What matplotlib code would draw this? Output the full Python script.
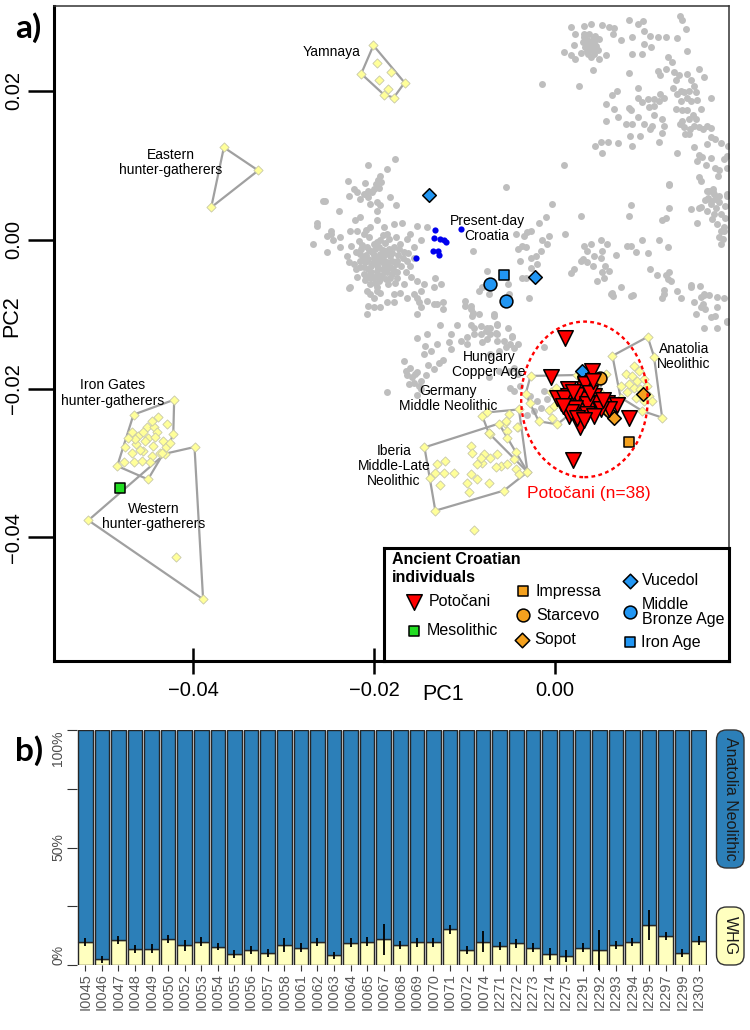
import numpy as np
import matplotlib.pyplot as plt
from matplotlib.patches import Ellipse, FancyBboxPatch

plt.rcParams['font.family'] = ['Liberation Sans', 'DejaVu Sans']

# ---- panel a) PCA, coordinates given as PC x 1000 ----
modern = [
    (-17.7, 10.9), (-20.6, 10.0), (-18.6, 9.5), (-19.3, 8.5), (-19.5, 8.0), (-19.2, 7.7), (-19.8, 7.5),
    (-19.4, 7.0), (-20.0, 6.8), (-20.2, 6.4), (-20.6, 6.6), (-21.0, 7.6), (-21.1, 6.1), (-20.6, 5.7),
    (-21.5, 5.5), (-22.2, 6.8), (-21.9, 6.4), (-25.4, 5.2), (-23.9, 3.9), (-22.8, 5.9), (-19.7, 5.0),
    (-19.3, 4.6), (-18.2, 5.7), (-17.6, 4.6), (-19.7, 3.9), (-20.4, 4.8), (-21.5, 3.0), (-22.1, 2.6),
    (-26.3, 1.9), (-24.8, 1.2), (-25.2, 0.5), (-24.5, -0.1), (-23.7, 0.3), (-26.7, -0.6), (-23.7, -1.0),
    (-25.2, -1.7), (-22.6, 1.2), (-21.9, 1.2), (-21.1, 0.8), (-20.4, 1.7), (-19.7, 2.6), (-18.9, 1.7),
    (-17.8, 2.1), (-16.9, 2.3), (-18.5, 0.8), (-19.3, -0.1), (-20.0, -0.6), (-20.8, -1.0), (-21.5, -1.9),
    (-22.2, -3.3), (-21.5, -2.8), (-21.1, -3.7), (-20.8, -2.8), (-20.0, -2.4), (-19.3, -1.9), (-18.5, -1.5),
    (-17.8, -1.0), (-17.1, -0.6), (-16.3, 0.1), (-16.0, 0.8), (-15.2, 1.9), (-14.1, 1.7), (-14.8, -0.1),
    (-15.6, -1.0), (-16.7, -1.7), (-17.4, -2.8), (-18.2, -3.7), (-18.9, -3.3), (-19.7, -4.2), (-20.4, -4.6),
    (-21.1, -4.6), (-19.3, -5.3), (-18.2, -5.1), (-17.4, -5.1), (-16.7, -6.0), (-15.2, -5.5), (-14.5, -6.0),
    (-13.2, -5.1), (-12.6, -6.0), (-13.4, -6.4), (-14.8, -6.9), (-15.6, -7.3), (-15.2, -7.8), (-14.1, -8.2),
    (-13.0, -8.7), (-12.3, -8.4), (-16.3, -7.8), (-17.1, -7.1), (-17.8, -7.3), (-19.3, -7.1), (-19.7, -6.4),
    (-20.4, -6.0), (-20.8, -6.9), (-20.0, -7.8), (-20.6, -8.9), (-20.8, -10.0), (-19.3, -9.1), (-18.5, -8.4),
    (-17.8, -8.4), (-22.6, -6.4), (-15.2, -10.0), (-14.8, -9.1), (-9.9, -8.2), (-9.3, -8.9), (-9.0, -9.8),
    (-8.4, -6.9), (-9.0, -1.5), (-16.3, -2.8), (-15.6, -2.4), (-19.8, -2.9), (-19.0, -2.6), (-20.3, -3.5),
    (-18.6, -3.0), (-19.5, -3.8), (-20.9, -2.0), (-18.2, -2.2), (-19.9, -1.2), (-18.8, -0.5), (-21.0, -5.4),
    (-19.9, -5.8), (-18.6, -4.4), (-17.9, -4.0), (-20.5, 0.3), (-19.0, 0.6), (-17.5, 0.4), (-22.5, -0.8),
    (-23.0, -2.2), (-22.0, -4.0), (-21.7, -0.2), (-20.2, -1.6), (-19.4, -1.0), (-18.0, -1.8), (-20.7, -4.0),
    (-19.1, -4.7), (-18.4, -5.9), (-21.4, -1.3), (-20.3, -5.2), (-17.0, -3.5), (-16.5, -4.4), (-22.9, 7.9),
    (-25.6, 5.2), (-26.3, 2.2), (-24.8, 0.8), (-22.8, -6.5), (-20.0, -9.1), (-20.4, -7.3),
    (-20.0, -2.0), (-19.6, -2.3), (-19.2, -2.9), (-18.9, -2.1), (-19.6, -3.4), (-20.1, -3.1), (-20.6, -2.6),
    (-20.3, -4.3), (-19.7, -4.9), (-19.0, -4.0), (-18.4, -3.6), (-18.0, -2.8), (-17.6, -3.2), (-17.3, -2.0),
    (-18.3, -1.2), (-19.0, -1.4), (-20.5, -1.4), (-21.2, -2.3), (-21.0, -3.0), (-21.5, -3.6), (-20.9, -5.0),
    (-20.0, -5.0), (-19.4, -5.6), (-18.7, -5.3), (-18.0, -4.6), (-17.4, -4.3), (-16.8, -2.5), (-17.7, -5.8),
    (-19.7, -6.9), (-21.3, -0.7), (-22.0, -1.6), (-22.7, -3.0), (-21.9, -5.0), (-19.6, -0.3), (-18.3, 0.1),
    (-17.2, -1.3), (-16.2, -1.8), (-16.0, -3.5), (-15.9, -5.0), (-20.9, 1.3),
    (1.85, 28.6), (2.25, 27.7), (3.25, 28.65), (4.0, 29.0), (5.2, 28.9), (6.0, 28.6), (6.6, 28.5), (6.5, 27.7),
    (7.3, 26.8), (8.2, 29.5), (9.2, 29.0), (9.8, 29.4), (8.6, 27.2), (9.9, 28.1), (10.6, 27.4), (11.4, 27.2),
    (12.3, 27.2), (13.6, 27.1), (13.9, 30.1), (14.1, 29.5), (14.5, 28.3), (14.7, 25.3), (9.9, 26.3), (10.7, 25.9),
    (8.6, 25.0), (9.7, 24.9), (1.0, 25.2), (1.8, 24.8), (2.3, 24.3), (2.9, 25.1), (2.1, 26.1), (3.6, 26.8),
    (4.0, 25.9), (4.4, 25.0), (3.25, 27.2), (3.8, 27.7), (4.5, 27.4), (4.9, 27.0), (4.4, 26.5), (3.4, 25.9),
    (4.0, 24.5), (4.9, 24.3), (5.65, 24.8), (4.2, 22.8), (3.5, 26.0), (3.9, 26.4), (4.2, 25.5), (3.6, 25.3),
    (4.6, 26.0), (3.1, 26.5), (4.8, 25.5), (3.3, 27.6), (4.3, 27.0), (3.7, 24.9),
    (-1.4, 20.9), (2.7, 20.7), (8.2, 22.4), (9.2, 20.4), (12.6, 24.5), (13.0, 23.9), (12.3, 23.0), (11.4, 22.7),
    (11.7, 22.1), (13.2, 22.5), (13.8, 22.1), (14.7, 22.3), (16.0, 23.0), (16.5, 21.9), (15.1, 21.4),
    (15.4, 20.7), (13.4, 21.4), (13.1, 20.4), (14.0, 20.0), (13.6, 19.6), (14.3, 19.8), (14.9, 20.0),
    (15.7, 19.8), (14.7, 19.1), (15.8, 18.8), (15.1, 18.7), (14.0, 18.7), (17.3, 19.1), (11.7, 19.6),
    (12.1, 19.1), (11.6, 18.7), (11.0, 18.9), (10.3, 18.9), (11.0, 18.0), (10.5, 17.8), (9.7, 18.5),
    (9.2, 19.1), (8.2, 17.7), (6.9, 20.0), (6.3, 19.4), (5.65, 18.2), (6.6, 17.6), (7.0, 16.5), (8.4, 17.4),
    (9.2, 16.5), (9.9, 15.6), (10.8, 15.3), (11.0, 16.7), (11.9, 16.2), (12.1, 15.3), (11.9, 14.4),
    (13.4, 17.6), (14.1, 17.4), (14.7, 17.4), (15.3, 16.7), (15.6, 16.2), (14.9, 16.2), (14.1, 16.0),
    (13.9, 15.6), (14.3, 15.1), (15.0, 14.9), (15.4, 15.3), (16.0, 15.1), (16.4, 14.9), (16.9, 15.3),
    (17.3, 15.0), (16.2, 17.6), (14.4, 14.2), (14.9, 14.2), (5.65, 16.0), (7.9, 15.5), (8.6, 15.5),
    (10.6, 14.9), (8.3, 13.9), (9.5, 14.0), (8.6, 12.6), (11.6, 13.1), (4.5, 12.6), (5.1, 13.1), (5.9, 13.1),
    (7.0, 13.0), (5.2, 11.7), (15.4, 12.5), (16.9, 12.9), (17.3, 13.8), (17.8, 13.5), (18.4, 13.0),
    (19.2, 12.6), (16.0, 11.4), (16.3, 11.1), (15.8, 10.6), (17.3, 11.0), (17.7, 9.6), (18.2, 9.4),
    (18.8, 10.8), (19.1, 11.3), (18.1, 8.6), (19.1, 9.7), (16.7, 10.0), (13.5, 11.6), (16.0, 8.4), (16.2, 7.9),
    (17.1, 6.6), (17.5, 6.4), (18.2, 5.9), (19.1, 6.1), (17.8, 5.5), (1.0, 10.0), (-5.4, 7.1), (12.7, 7.5),
    (-0.26, 4.8), (-1.0, 3.1), (-1.7, 2.3), (-2.66, 1.2), (-3.0, 1.0), (-3.4, 0.5), (-4.3, 0.8), (-3.6, -0.8),
    (-4.0, -1.25), (-3.2, -1.0), (-1.4, -0.1), (-1.55, -1.5), (-0.8, -0.6), (-0.6, 0.5), (1.2, 0.8), (2.9, 3.2),
    (-2.1, -2.15), (-2.66, -2.4), (-1.9, -3.3), (-2.66, -3.8), (-3.8, -2.8), (-3.6, -5.1), (-3.2, -5.2),
    (-2.85, -7.8), (-7.5, -4.2), (-8.0, -6.4), (-7.3, -7.3), (-5.2, -5.96), (-5.1, -7.3), (-6.7, -10.2),
    (-6.35, -11.3), (-7.1, -11.8), (-7.6, -12.2), (-6.35, -12.7), (-7.5, -13.4), (-5.6, -13.6), (-4.7, -12.9),
    (-4.9, -14.0), (-5.4, -14.4), (-1.2, -14.4), (3.25, -0.8), (4.0, -0.6), (3.6, -1.5), (4.35, -2.15),
    (3.1, -2.6), (2.9, -2.8), (3.6, -3.0), (4.2, -3.5), (5.1, -0.1), (5.8, -0.6), (5.3, -1.5), (5.1, -2.4),
    (5.55, -3.5), (6.0, -4.2), (5.3, -4.3), (5.5, -5.1), (4.7, -5.6), (2.1, -3.9), (1.8, -4.5), (6.8, -2.0),
    (6.3, -7.1), (6.5, -7.5), (7.4, -6.4), (8.7, -7.4), (8.05, -0.8), (8.4, -0.8), (9.0, -1.7), (9.7, -0.1),
    (10.3, -1.8), (10.6, -3.9), (11.6, 0.0), (12.5, -1.0), (11.3, -4.75), (12.3, -4.8), (12.5, -5.3),
    (12.85, -5.5), (12.7, -4.3), (12.1, -6.8), (11.9, -7.8), (13.5, -6.95), (15.1, -6.1), (16.1, -6.2),
    (15.4, -8.4), (16.2, -7.75), (16.5, -7.4), (17.1, -7.4), (18.0, -7.75), (16.4, -8.6), (16.2, -9.1),
    (16.6, -9.3), (15.6, -10.0), (17.3, -10.4), (17.7, -10.2), (18.0, -11.8), (19.1, -11.1), (8.4, 4.7),
    (8.2, 3.2), (12.3, 2.9), (12.7, 4.3), (11.9, 2.65), (12.7, 7.4), (15.1, 4.1), (15.8, 2.3), (16.2, 4.4),
    (16.85, 3.9), (17.3, 4.8), (17.65, 3.45), (18.0, 2.1), (18.4, 1.2), (18.6, 0.1), (18.8, 1.7),
    (17.65, 6.15), (18.2, 5.0), (19.1, 5.9), (16.9, 6.6), (17.5, 6.8), (18.4, -0.6), (17.3, 5.2), (18.4, 3.5),
    (18.7, 1.2), (18.2, 0.3), (16.0, 4.3), (17.0, 5.6), (17.9, 4.2), (18.9, 4.5), (17.4, 2.8), (18.9, 2.9),
    (16.6, 5.3),
    (-15.0, -8.4), (-13.4, -8.7), (-12.4, -9.3), (-9.9, -8.9), (-9.3, -9.3), (-9.1, -10.2), (-8.4, -10.0),
    (-6.7, -10.0), (-10.8, -11.4), (-9.3, -11.4), (-8.9, -11.8), (-8.2, -11.6), (-7.5, -11.8), (-6.4, -11.4),
    (-6.5, -12.5), (-7.1, -12.7), (-8.2, -12.7), (-8.9, -12.7), (-9.7, -13.1), (-10.4, -13.6), (-11.5, -12.7),
    (-11.7, -13.8), (-12.7, -11.4), (-14.1, -12.7), (-15.2, -13.2), (-14.3, -14.3), (-13.7, -14.9),
    (-14.5, -15.4), (-13.0, -14.0), (-11.5, -14.7), (-9.7, -14.0), (-8.0, -13.8), (-6.4, -13.6), (-6.2, -14.9),
    (-7.1, -15.4), (-4.7, -13.1), (-5.2, -11.8), (-4.5, -14.5), (-4.1, -14.0), (-16.7, -16.3), (-16.5, -17.6),
    (-16.0, -17.2), (-15.8, -18.5), (-15.2, -17.8), (-15.6, -19.2), (-14.8, -19.0), (-14.8, -20.1),
    (-16.1, -19.4), (-13.4, -17.4), (-12.8, -16.5), (-12.3, -16.1), (-18.5, -20.5), (-15.2, -20.8),
    (-7.3, -18.5), (-6.2, -17.6), (-5.1, -17.6), (-4.5, -17.2), (-4.1, -18.1), (-4.9, -19.9), (-4.5, -20.3),
    (-3.8, -19.6), (-2.7, -21.0), (-1.9, -21.7), (-1.55, -22.6), (-2.3, -23.0), (-1.2, -20.3), (-0.8, -21.4),
    (-3.0, -23.5), (-15.5, -18.0), (-14.2, -18.2), (-15.0, -19.6), (-16.3, -18.2), (-14.0, -16.8),
    (15.1, -6.4), (16.5, -7.3), (18.8, -7.8), (18.0, -9.1), (19.1, -10.9), (16.5, -11.8), (14.0, -7.8),
    (12.1, -7.3), (6.2, -7.3), (8.4, -7.5),
]
croatia_today = [(-13.26, 1.35), (-13.37, 0.18), (-12.7, 0.09), (-12.2, -0.04), (-12.0, -0.36),
                 (-13.44, -1.57), (-12.9, -1.48), (-12.8, -2.0), (-15.3, -2.5), (-10.4, 1.44)]

yamnaya = [(-20.05, 26.1), (-21.4, 22.3), (-19.7, 23.7), (-19.4, 21.5), (-18.1, 22.5), (-18.4, 20.2),
           (-18.9, 19.5), (-17.8, 19.1), (-16.6, 21.1)]
ehg = [(-36.6, 12.4), (-32.8, 9.3), (-38.0, 4.35)]
whg = [(-51.6, -37.7), (-38.9, -48.3), (-39.85, -27.85), (-43.1, -28.75), (-41.9, -42.6)]
iron_gates = [(-42.1, -21.5), (-46.6, -23.5), (-48.4, -30.4), (-45.0, -32.2), (-42.2, -26.1), (-43.9, -23.8),
              (-42.9, -24.8), (-45.1, -25.2), (-44.3, -25.2), (-46.8, -25.9), (-44.0, -25.9), (-46.1, -26.4),
              (-45.0, -26.6), (-43.3, -27.0), (-47.5, -27.9), (-45.3, -27.0), (-44.4, -27.7), (-46.3, -27.5),
              (-46.8, -28.6), (-45.5, -28.4), (-44.6, -29.1), (-43.7, -28.6), (-47.7, -29.9), (-46.6, -29.9),
              (-45.7, -29.7), (-44.8, -29.9), (-43.0, -27.9), (-43.5, -28.6), (-44.2, -26.5), (-45.5, -25.9),
              (-46.4, -26.8), (-45.9, -28.2), (-47.2, -26.6), (-42.6, -27.3), (-44.6, -24.3)]
anatolia_n = [(10.3, -13.05), (11.0, -15.7), (11.9, -23.9), (9.7, -23.0), (7.3, -21.2), (6.4, -15.6),
              (8.79, -16.95), (9.34, -17.6), (7.87, -18.07), (8.6, -18.3), (9.16, -18.97), (9.9, -18.74),
              (8.24, -19.4), (7.3, -19.6), (8.8, -19.9), (9.5, -20.1), (10.27, -19.6), (8.05, -20.5),
              (8.97, -21.2), (10.45, -21.0), (10.8, -21.7), (9.9, -21.7)]
hungary_ca = [(-2.66, -18.3), (-3.2, -20.7), (-2.73, -22.0), (-1.74, -24.4), (-0.44, -20.4), (0.11, -19.95),
              (-0.63, -22.9), (-0.26, -24.0), (-0.07, -22.3), (5.65, -18.1), (4.9, -20.3), (0.3, -24.8),
              (2.5, -18.2)]
germany_mn = [(-8.0, -23.7), (-5.06, -23.45), (-3.95, -22.8), (-5.5, -24.6), (-5.3, -25.7), (-4.1, -25.2),
              (-5.24, -26.6), (-7.27, -26.0), (-7.46, -23.2), (-7.16, -26.1), (-5.43, -24.35), (-4.2, -25.2),
              (-3.0, -31.2), (-4.3, -28.5)]
iberia_mln = [(-14.4, -27.9), (-13.0, -30.2), (-12.1, -29.7), (-13.2, -31.3), (-13.8, -32.0), (-12.26, -31.3),
              (-11.15, -31.3), (-12.7, -32.9), (-9.3, -27.7), (-9.1, -28.6), (-7.83, -28.8), (-8.0, -30.0),
              (-7.1, -29.3), (-6.35, -28.8), (-9.3, -31.5), (-8.6, -32.2), (-9.67, -32.65), (-7.27, -32.65),
              (-9.5, -33.9), (-5.6, -33.7), (-5.98, -30.4), (-6.5, -30.6), (-5.24, -30.2), (-4.5, -29.5),
              (-4.3, -30.85), (-3.95, -31.5), (-3.0, -31.2), (-13.2, -36.4), (-7.27, -26.0), (-8.2, -29.3),
              (-8.6, -30.2), (-6.16, -24.7)]
other_ref = [(-8.93, -39.06)]

potocani = [(1.1, -13.2), (-0.37, -18.5), (4.17, -17.6), (1.48, -20.1), (3.25, -20.1), (4.36, -21.0),
            (1.96, -21.7), (3.06, -21.4), (0.66, -21.9), (1.22, -22.8), (2.88, -23.0), (4.0, -22.8),
            (4.7, -21.9), (5.8, -21.9), (6.95, -22.2), (6.0, -22.8), (1.59, -23.7), (2.8, -25.2),
            (8.24, -24.0), (2.07, -29.6), (1.48, -21.0), (2.5, -20.8), (3.6, -22.1), (0.3, -21.2),
            (1.0, -21.2), (5.1, -22.8), (3.6, -23.45), (2.3, -22.55), (3.4, -19.4), (1.77, -23.2),
            (4.36, -23.7), (2.0, -20.4), (3.9, -20.6), (0.9, -22.3), (2.5, -24.0), (3.2, -24.2),
            (5.4, -21.5), (4.2, -19.0)]
mesolithic = [(-48.1, -33.3)]
impressa = [(8.24, -27.2)]
starcevo = [(3.25, -18.5), (5.0, -18.6)]
sopot = [(9.8, -20.7), (5.65, -22.8), (6.0, -23.2), (6.57, -23.9)]
vucedol = [(3.0, -17.6), (-13.85, 6.05), (-2.2, -5.06)]
mba = [(-7.1, -5.9), (-5.43, -8.2)]
iron_age = [(-5.6, -4.75)]

pop_labels = [
    ('Yamnaya', -24.65, 25.2), ('Eastern\nhunter-gatherers', -42.5, 10.4),
    ('Present-day\nCroatia', -7.46, 1.52), ('Iron Gates\nhunter-gatherers', -48.9, -20.6),
    ('Western\nhunter-gatherers', -44.4, -37.2), ('Iberia\nMiddle-Late\nNeolithic', -17.8, -30.4),
    ('Germany\nMiddle Neolithic', -11.8, -21.3), ('Hungary\nCopper Age', -7.28, -16.8),
    ('Anatolia\nNeolithic', 14.3, -15.7),
]

# ---- panel b) qpAdm proportions ----
samples = ['I0045', 'I0046', 'I0047', 'I0048', 'I0049', 'I0050', 'I0052', 'I0053', 'I0054', 'I0055',
           'I0056', 'I0057', 'I0058', 'I0061', 'I0062', 'I0063', 'I0064', 'I0065', 'I0067', 'I0068',
           'I0069', 'I0070', 'I0071', 'I0072', 'I0074', 'I2271', 'I2272', 'I2273', 'I2274', 'I2275',
           'I2291', 'I2292', 'I2293', 'I2294', 'I2295', 'I2297', 'I2299', 'I2303']
whg_pct = [9.6, 2.4, 10.5, 7.0, 7.0, 11.1, 8.4, 9.9, 7.8, 4.8, 6.2, 5.0, 8.4, 7.4, 9.9, 4.1, 9.5, 9.9,
           10.9, 8.4, 9.6, 9.6, 15.2, 6.2, 9.9, 8.2, 9.2, 7.4, 4.8, 3.7, 7.4, 6.2, 8.5, 9.6, 17.0, 12.2,
           5.1, 10.4]
whg_err = [1.7, 1.5, 1.7, 1.7, 1.8, 1.7, 2.3, 1.9, 1.5, 1.7, 1.7, 1.7, 2.9, 1.9, 1.7, 1.5, 2.0, 2.0,
           6.5, 1.8, 1.8, 1.8, 1.8, 1.7, 4.5, 1.8, 1.8, 1.8, 2.5, 2.5, 1.8, 8.5, 1.8, 1.7, 6.3, 1.7,
           1.7, 1.8]

BLUE = '#2196F3'
ORANGE = '#F4A11E'
YELLOW = '#FFFF99'


def xy(pts):
    a = np.array(pts) / 1000
    return a[:, 0], a[:, 1]


def hull(pts):
    p = sorted(set(pts))

    def cross(o, a, b):
        return (a[0] - o[0]) * (b[1] - o[1]) - (a[1] - o[1]) * (b[0] - o[0])
    lo, up = [], []
    for q in p:
        while len(lo) >= 2 and cross(lo[-2], lo[-1], q) <= 0:
            lo.pop()
        lo.append(q)
    for q in reversed(p):
        while len(up) >= 2 and cross(up[-2], up[-1], q) <= 0:
            up.pop()
        up.append(q)
    h = lo[:-1] + up[:-1]
    return xy(h + h[:1])


fig = plt.figure(figsize=(7.5, 10.3), dpi=100)
ax = fig.add_axes([54 / 750, 1 - 661 / 1030, 675 / 750, 655 / 1030])

ax.scatter(*xy(modern), s=25, color='#BEBEBE', lw=0, zorder=1)

refs = [yamnaya, ehg, whg, iron_gates, anatolia_n, hungary_ca, germany_mn, iberia_mln]
for grp in refs:
    ax.plot(*hull(grp), color='#A0A0A0', lw=1.6, zorder=2)
for grp in refs + [other_ref]:
    ax.scatter(*xy(grp), marker='D', s=22, facecolor=YELLOW, edgecolor='#C8C8A8', lw=0.6, zorder=3)

ax.scatter(*xy(croatia_today), s=20, color='#0000EE', lw=0, zorder=4)

ax.scatter(*xy(mesolithic), marker='s', s=62, facecolor='#22DD22', edgecolor='black', lw=1.1, zorder=5)
ax.scatter(*xy(impressa), marker='s', s=62, facecolor=ORANGE, edgecolor='black', lw=1.1, zorder=5)
ax.scatter(*xy(starcevo), marker='o', s=85, facecolor=ORANGE, edgecolor='black', lw=1.1, zorder=5)
ax.scatter(*xy(sopot), marker='D', s=48, facecolor=ORANGE, edgecolor='black', lw=1.1, zorder=5)
ax.scatter(*xy(vucedol), marker='D', s=48, facecolor=BLUE, edgecolor='black', lw=1.1, zorder=5)
ax.scatter(*xy(mba), marker='o', s=85, facecolor=BLUE, edgecolor='black', lw=1.1, zorder=5)
ax.scatter(*xy(iron_age), marker='s', s=62, facecolor=BLUE, edgecolor='black', lw=1.1, zorder=5)
ax.scatter(*xy(potocani), marker='v', s=125, facecolor='#FF0000', edgecolor='black', lw=1.1, zorder=6)

ax.add_patch(Ellipse((3.3e-3, -21.45e-3), 14.0e-3, 20.9e-3, fill=False, ec='#FF0000',
                     ls=(0, (1.6, 1.4)), lw=1.7, zorder=7))
ax.text(3.8e-3, -34.1e-3, 'Potočani (n=38)', color='#FF0000', fontsize=12.5,
        ha='center', va='center', zorder=8)
for txt, x, y in pop_labels:
    ax.text(x / 1000, y / 1000, txt, fontsize=10, ha='center', va='center',
            linespacing=1.1, zorder=8)

ax.set_xlim(-0.0554, 0.0193)
ax.set_ylim(-0.0566, 0.0314)
ax.set_xticks([-0.04, -0.02, 0.0])
ax.set_xticklabels(['\u22120.04', '\u22120.02', '0.00'])
ax.set_yticks([0.02, 0.0, -0.02, -0.04])
ax.set_yticklabels(['0.02', '0.00', '\u22120.02', '\u22120.04'], rotation=90, va='center')
ax.tick_params(axis='x', direction='inout', length=19, width=1.8, pad=5, labelsize=14.5)
ax.tick_params(axis='y', direction='out', length=19, width=1.8, pad=3, labelsize=14.5)
for side in ['left', 'bottom']:
    ax.spines[side].set_linewidth(2.2)
for side in ['top', 'right']:
    ax.spines[side].set_linewidth(1.1)
    ax.spines[side].set_color('#333333')
fig.text(443 / 750, 1 - 695 / 1030, 'PC1', fontsize=15.5, ha='center', va='center')
fig.text(12 / 750, 1 - 316 / 1030, 'PC2', fontsize=15.5, ha='center', va='center', rotation=90)

# legend box
lg = fig.add_axes([384 / 750, 1 - 661 / 1030, 345 / 750, 113 / 1030], zorder=10)
lg.set_xlim(0, 1)
lg.set_ylim(0, 1)
lg.set_xticks([])
lg.set_yticks([])
for s in lg.spines.values():
    s.set_linewidth(2.2)
lg.text(0.022, 0.90, 'Ancient Croatian', fontsize=11.5, weight='bold', va='center')
lg.text(0.022, 0.737, 'individuals', fontsize=11.5, weight='bold', va='center')
entries = [
    (0.088, 0.525, 'v', '#FF0000', 125, 'Potočani', 0.131, 0.525),
    (0.088, 0.268, 's', '#22DD22', 55, 'Mesolithic', 0.124, 0.268),
    (0.402, 0.619, 's', ORANGE, 62, 'Impressa', 0.440, 0.619),
    (0.402, 0.407, 'o', ORANGE, 85, 'Starcevo', 0.440, 0.407),
    (0.401, 0.186, 'D', ORANGE, 55, 'Sopot', 0.436, 0.186),
    (0.713, 0.710, 'D', BLUE, 55, 'Vucedol', 0.749, 0.710),
    (0.713, 0.436, 'o', BLUE, 85, 'Middle\nBronze Age', 0.747, 0.432),
    (0.713, 0.171, 's', BLUE, 62, 'Iron Age', 0.746, 0.162),
]
for mx, my, mk, col, sz, txt, tx, ty in entries:
    lg.scatter([mx], [my], marker=mk, s=sz, facecolor=col, edgecolor='black', lw=1.1)
    lg.text(tx, ty, txt, fontsize=11.5, va='center', linespacing=1.05)

# ---- panel b ----
bx = fig.add_axes([77 / 750, 1 - 965 / 1030, 630 / 750, 235 / 1030])
pos = np.arange(len(samples))
w = np.array(whg_pct) / 100
bx.bar(pos, w, 0.88, color='#FFFFBF', edgecolor='#262626', lw=1.0)
bx.bar(pos, 1 - w, 0.88, bottom=w, color='#2C7FB8', edgecolor='#262626', lw=1.0)
eb = bx.errorbar(pos, w, yerr=np.array(whg_err) / 100, fmt='none', ecolor='black',
                 elinewidth=1.3, capsize=0)
for c in eb.lines[2]:
    c.set_clip_on(False)
bx.set_xlim(-0.5, len(samples) - 0.5)
bx.set_ylim(0, 1)
for s in bx.spines.values():
    s.set_visible(False)
bx.set_xticks(pos)
bx.set_xticklabels(samples, rotation=90, fontsize=10.5, color='#5A5A5A')
bx.set_yticks([0, 0.25, 0.5, 0.75, 1.0])
bx.set_yticklabels(['0%', '', '50%', '', '100%'], rotation=90, fontsize=10, color='#4D4D4D')
for lbl, va in zip(bx.get_yticklabels(), ['bottom', 'center', 'center', 'center', 'top']):
    lbl.set_va(va)
bx.tick_params(axis='x', length=4, width=0.8, color='#333333', pad=2)
bx.tick_params(axis='y', length=7, width=0.8, color='#333333', pad=1.5)

tr = fig.dpi_scale_trans
fig.add_artist(FancyBboxPatch((7.165, 1.62), 0.275, 1.38, boxstyle='round,pad=0,rounding_size=0.1',
                              transform=tr, fc='#2C7FB8', ec='#333333', lw=1.0))
fig.add_artist(FancyBboxPatch((7.165, 0.65), 0.275, 0.58, boxstyle='round,pad=0,rounding_size=0.1',
                              transform=tr, fc='#FFFFBF', ec='#333333', lw=1.0))
fig.text(7.3025 / 7.5, 2.31 / 10.3, 'Anatolia Neolithic', rotation=270, ha='center', va='center',
         fontsize=11.5, color='#1A1A1A')
fig.text(7.3025 / 7.5, 0.94 / 10.3, 'WHG', rotation=270, ha='center', va='center',
         fontsize=11.5, color='#1A1A1A')

fig.text(15 / 750, 1 - 28 / 1030, 'a)', fontsize=24, weight='bold', ha='left', va='center',
         family=['Lato', 'DejaVu Sans'])
fig.text(15 / 750, 1 - 751 / 1030, 'b)', fontsize=24, weight='bold', ha='left', va='center',
         family=['Lato', 'DejaVu Sans'])

fig.savefig('out.png', dpi=100)
